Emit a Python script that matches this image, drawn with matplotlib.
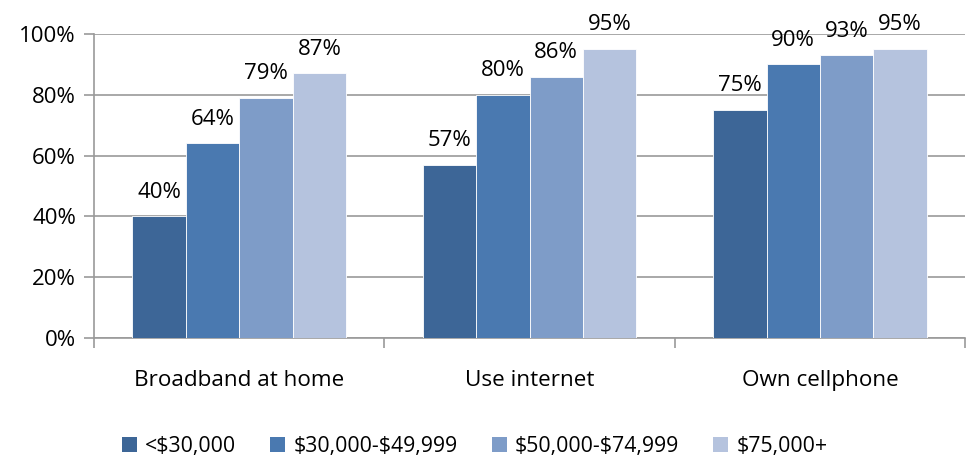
import numpy as np
import matplotlib.pyplot as plt
from matplotlib.patches import Patch

categories = ["Broadband at home", "Use internet", "Own cellphone"]
series = ["<$30,000", "$30,000-$49,999", "$50,000-$74,999", "$75,000+"]
values = [
    [40, 57, 75],
    [64, 80, 90],
    [79, 86, 93],
    [87, 95, 95],
]
colors = ["#3D6697", "#4A79B0", "#7E9CC8", "#B5C3DE"]

plt.rcParams['font.family'] = ['Open Sans', 'DejaVu Sans']
plt.rcParams['text.parse_math'] = False

fig = plt.figure(figsize=(9.69, 4.59), dpi=100)
ax = fig.add_axes([0.097, 0.2636, 0.899, 0.6624])

x = np.arange(len(categories))
w = 0.184
for i, (name, vals) in enumerate(zip(series, values)):
    pos = x + (i - 1.5) * w
    bars = ax.bar(pos, vals, w, color=colors[i], edgecolor="white", linewidth=0.6,
                  label=name, zorder=3)
    for b, v in zip(bars, vals):
        ax.text(b.get_x() + b.get_width() / 2, v + 4.5, f"{v}%", ha="center",
                va="bottom", fontsize=16, clip_on=False)

ax.set_xlim(-0.5, 2.5)
ax.set_ylim(0, 100)
ax.set_yticks(range(0, 101, 20))
ax.set_yticklabels([f"{t}%" for t in range(0, 101, 20)], fontsize=16)
ax.yaxis.grid(True, color="#9A9A9A", linewidth=1.2, zorder=0)
ax.set_axisbelow(True)

ax.set_xticks(x)
ax.set_xticklabels(categories, fontsize=16.2)
ax.tick_params(axis="x", length=0, pad=23)
ax.set_xticks([-0.5, 0.5, 1.5, 2.5], minor=True)
ax.tick_params(axis="x", which="minor", length=7, width=1.2, color="#9A9A9A")
ax.tick_params(axis="y", length=7, width=1.2, color="#9A9A9A", pad=6)

for s in ["top", "right"]:
    ax.spines[s].set_visible(False)
for s in ["left", "bottom"]:
    ax.spines[s].set_color("#9A9A9A")
    ax.spines[s].set_linewidth(1.2)

handles = [Patch(facecolor=c) for c in colors]
fig.legend(handles, series, loc="lower center", bbox_to_anchor=(0.49, -0.037), ncol=4,
           frameon=False, fontsize=15.3, handlelength=0.7, handleheight=0.7,
           handletextpad=0.4, columnspacing=1.6)

fig.savefig("out.png", dpi=100)
